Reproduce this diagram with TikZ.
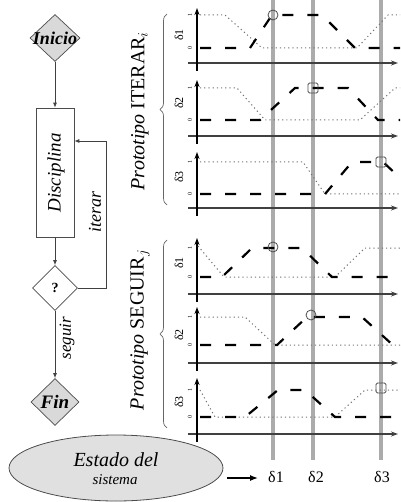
\documentclass[tikz,border=0pt]{standalone}
\usepackage{fontspec}
\setmainfont{Liberation Serif}
\usetikzlibrary{shapes.geometric,decorations.pathreplacing,arrows.meta}
\begin{document}
\begin{tikzpicture}[x=1pt,y=-1pt,
  flow/.style={draw=black!75, line width=0.8pt},
  arr/.style={flow, -{Latex[length=5pt,width=4pt]}},
  dia/.style={diamond, draw=black!70, line width=0.7pt, inner sep=0pt},
  gline/.style={line width=4pt, draw=black!33},
  haxis/.style={line width=1.3pt, draw=black!75, -{Stealth[length=7pt,width=5pt]}},
  vaxis/.style={line width=1.8pt, draw=black, -{Stealth[length=7pt,width=5pt]}},
  dcurve/.style={line width=2.2pt, draw=black, dash pattern=on 11pt off 14pt},
  tcurve/.style={line width=1pt, draw=black!55, dash pattern=on 1.2pt off 3pt},
  mk/.style={draw=black!70, line width=0.8pt},
  brc/.style={draw=black!60, line width=0.7pt, decorate, decoration={brace, amplitude=7pt}},
  ticklab/.style={font=\fontsize{6}{6}\selectfont, rotate=90, inner sep=0pt},
  ylab/.style={font=\fontsize{12}{12}\selectfont, rotate=90, inner sep=0pt}
]
\useasboundingbox (0,0) rectangle (400,502);

% ---------- flowchart ----------
\node[dia, fill=black!15, minimum width=50pt, minimum height=47pt] (inicio) at (55,38) {};
\node[font=\bfseries\itshape\fontsize{18}{18}\selectfont, inner sep=0pt] (tinicio) at (inicio) {Inicio};
\node[draw=black!70, line width=0.7pt, minimum width=38pt, minimum height=129pt, inner sep=0pt] (disc) at (55,172.5) {};
\node[font=\itshape\fontsize{19}{19}\selectfont, rotate=90, inner sep=0pt] (tdisc) at (56,173) {Disciplina};
\node[dia, fill=white, minimum width=45pt, minimum height=45pt] (q) at (55,288) {};
\node[font=\bfseries\fontsize{14}{14}\selectfont, inner sep=0pt] (tq) at (q) {?};
\node[dia, fill=black!15, minimum width=48pt, minimum height=47pt] (fin) at (55,402) {};
\node[font=\bfseries\itshape\fontsize{19}{19}\selectfont, inner sep=0pt] (tfin) at (fin) {Fin};

\draw[arr] (inicio.south) -- (disc.north);
\draw[arr] (disc.south) -- (q.north);
\coordinate (lp) at (106,141);
\draw[arr] (q.east) -| (lp) -- (disc.east |- lp);
\draw[arr] (q.south) -- (fin.north);
\node[font=\itshape\fontsize{18}{18}\selectfont, rotate=90, inner sep=0pt] (titer) at (95,212) {iterar};
\node[font=\itshape\fontsize{17}{17}\selectfont, rotate=90, inner sep=0pt] (tseg) at (67,338) {seguir};

% ---------- system state ----------
\node[ellipse, draw=black!70, line width=0.8pt, fill=black!12, minimum width=214pt, minimum height=66pt, inner sep=0pt] (estado) at (116,468) {};
\node[font=\itshape\fontsize{20}{20}\selectfont, inner sep=0pt] (test1) at (116,460) {Estado del};
\node[font=\itshape\fontsize{15}{15}\selectfont, inner sep=0pt] (test2) at (115,480) {sistema};
\coordinate (sarrow) at (258,478);
\draw[line width=1.3pt, -{Latex[length=8pt,width=6pt]}] ([xshift=4pt,yshift=-10pt]estado.east) -- (sarrow);

% ---------- gray state lines ----------
\foreach \x in {273,313,381} \draw[gline] (\x,0) -- (\x,460);
\node[font=\fontsize{16}{16}\selectfont, inner sep=0pt] (d1) at (276,477) {δ1};
\node[font=\fontsize{16}{16}\selectfont, inner sep=0pt] (d2) at (316,477) {δ2};
\node[font=\fontsize{16}{16}\selectfont, inner sep=0pt] (d3) at (382,477) {δ3};

% ---------- axes ----------
\foreach \t/\a/\b/\c/\m/\n in {8/15/48/63/35/1, 80/88/120/136/103/2, 152/162/194/208/177/3,
                               238/248/277/294/263/1, 307/317/345/363/335/2, 378/390/417/434/402/3}{
  \draw[haxis] (188,\c) -- (398,\c);
  \draw[vaxis] (197,\c+8) -- (197,\t);
  \node[ticklab] at (190,\a) {1};
  \node[ticklab] at (190,\b) {0};
  \node[ylab] at (179,\m) {δ\n};
}

% ---------- group labels ----------
\draw[brc] (167,205) -- (167,14);
\draw[brc] (167,428) -- (167,240);
\node[font=\fontsize{20}{20}\selectfont, rotate=90, inner sep=0pt] (piter) at (140,111) {\textit{Prototipo} ITERAR$_i$};
\node[font=\fontsize{20}{20}\selectfont, rotate=90, inner sep=0pt] (pseg) at (140,330) {\textit{Prototipo} SEGUIR$_j$};

% ---------- curves ----------
% panel 1
\draw[tcurve] (200,15) -- (225,15) -- (262,48) -- (357,48) -- (388,15) -- (400,15);
\draw[dcurve] (200,48) -- (250,48) -- (272,15) -- (322,15) -- (355,48) -- (400,48);
\draw[mk] (273,15) circle (5);
% panel 2
\draw[tcurve] (200,88) -- (237,88) -- (265,120) -- (360,120) -- (395,88) -- (400,88);
\draw[dcurve] (200,120) -- (260,120) -- (295,88) -- (348,88) -- (378,120) -- (400,120);
\draw[mk, rounded corners=1.5pt] (308,83) rectangle (318,93);
% panel 3
\draw[tcurve] (200,162) -- (303,162) -- (325,194) -- (400,194);
\draw[dcurve] (200,194) -- (325,194) -- (352,162) -- (383,162) -- (398,176);
\draw[mk, rounded corners=1.5pt] (376,157) rectangle (386,167);
% panel 4
\draw[tcurve] (198,246) -- (224,277) -- (335,277) -- (365,248) -- (400,248);
\draw[dcurve] (200,277) -- (222,277) -- (252,248) -- (302,248) -- (332,277) -- (400,277);
\draw[mk] (273,247) circle (5);
% panel 5
\draw[tcurve] (200,317) -- (245,317) -- (275,345) -- (400,345);
\draw[dcurve] (200,345) -- (277,345) -- (307,317) -- (362,317) -- (395,347);
\draw[mk] (311,315) circle (5);
% panel 6
\draw[tcurve] (200,390) -- (215,417) -- (335,417) -- (365,390) -- (400,390);
\draw[dcurve] (200,417) -- (245,417) -- (278,390) -- (305,390) -- (335,417) -- (400,417);
\draw[mk, rounded corners=1.5pt] (376,383) rectangle (386,393);
\end{tikzpicture}
\end{document}
